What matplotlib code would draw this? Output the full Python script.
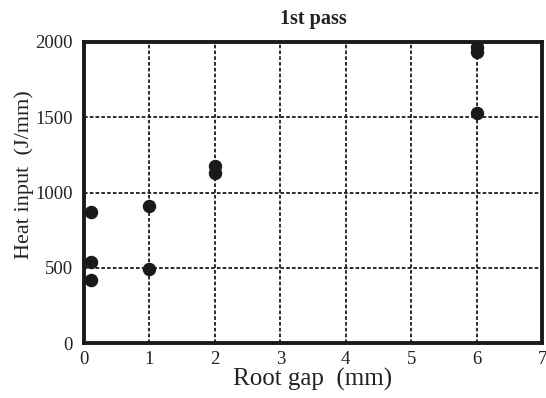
import matplotlib.pyplot as plt

# Root gap (mm) vs heat input (J/mm), first pass
root_gap = [0.1, 0.1, 0.1, 1, 1, 2, 2, 6, 6, 6]
heat_input = [873, 540, 419, 910, 492, 1175, 1130, 1965, 1935, 1530]

x_ticks = [0, 1, 2, 3, 4, 5, 6, 7]
y_ticks = [0, 500, 1000, 1500, 2000]

plt.rcParams['font.family'] = ['Liberation Serif', 'DejaVu Serif']

fig = plt.figure(figsize=(5.46, 3.98), dpi=100)
ax = fig.add_axes([84 / 546, 1 - 343 / 398, 458 / 546, 301 / 398])

ax.scatter(root_gap, heat_input, s=75, color='#1a1a1a', zorder=3, clip_on=False)

ax.set_xlim(0, 7)
ax.set_ylim(0, 2000)
ax.set_xticks(x_ticks)
ax.set_yticks(y_ticks)
ax.tick_params(length=0, labelsize=13.5, colors='#222222')
ax.tick_params(axis='y', pad=8)
ax.tick_params(axis='x', pad=6)
ax.grid(True, color='#1a1a1a', linestyle=(0, (2, 1.2)), linewidth=1.3)
ax.set_axisbelow(True)
for spine in ax.spines.values():
    spine.set_linewidth(2.8)
    spine.set_color('#1a1a1a')

ax.set_xlabel('Root gap  (mm)', fontsize=18, labelpad=0, color='#222222')
ax.set_ylabel('Heat input  (J/mm)', fontsize=16, color='#222222')
ax.yaxis.set_label_coords(-0.11, 0.56)
ax.set_title('1st pass', fontsize=14.5, fontweight='bold', color='#222222', pad=13)

fig.savefig('out.png', dpi=100)
